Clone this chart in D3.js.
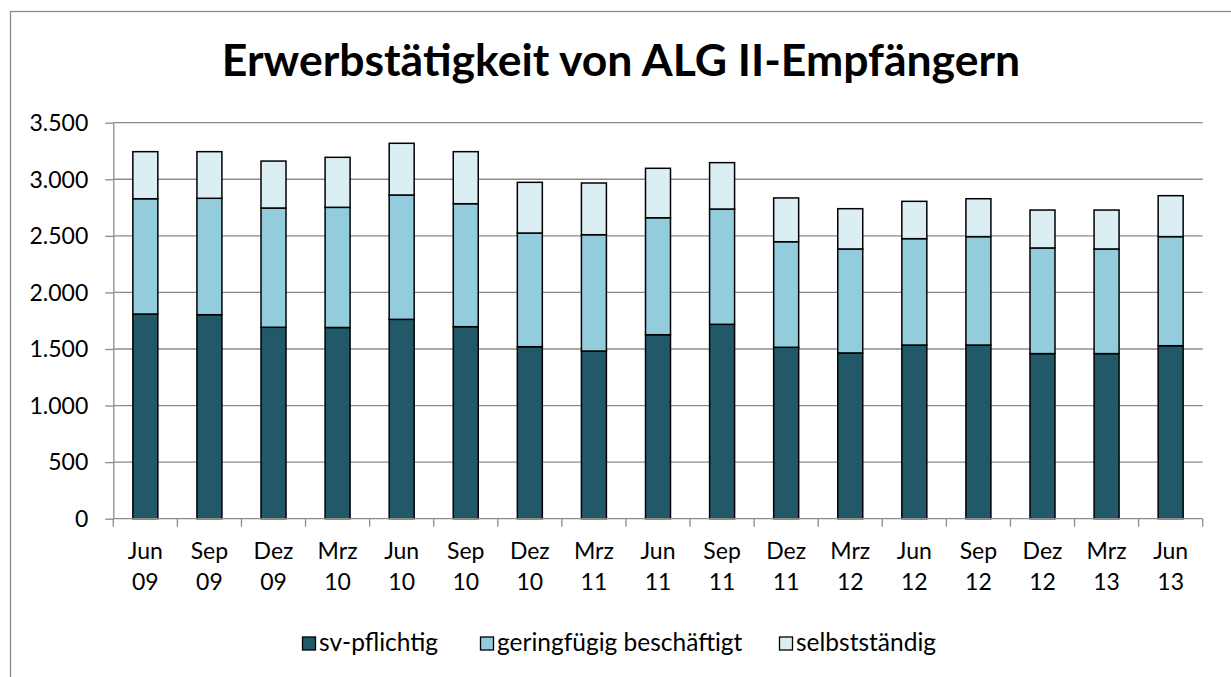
<!DOCTYPE html>
<html>
<head>
<meta charset="utf-8">
<script src="https://cdn.jsdelivr.net/npm/d3@7"></script>
<style>
  html, body { margin: 0; padding: 0; background: #fff; }
  svg { display: block; font-family: Lato, "Open Sans", sans-serif; }
</style>
</head>
<body>
<div id="chart"></div>
<script>
// category labels (two lines each)
const months = ['Jun', 'Sep', 'Dez', 'Mrz', 'Jun', 'Sep', 'Dez', 'Mrz', 'Jun', 'Sep', 'Dez', 'Mrz', 'Jun', 'Sep', 'Dez', 'Mrz', 'Jun'];
const years = ['09', '09', '09', '10', '10', '10', '10', '11', '11', '11', '11', '12', '12', '12', '12', '13', '13'];

// values in thousands
const svPflichtig = [1809, 1803, 1692, 1690, 1762, 1697, 1520, 1482, 1626, 1718, 1515, 1465, 1535, 1535, 1459, 1459, 1529];
const geringfuegig = [1019, 1029, 1054, 1062, 1099, 1087, 1005, 1028, 1034, 1019, 933, 919, 940, 958, 934, 925, 964];
const selbststaendig = [416, 412, 415, 442, 457, 460, 448, 457, 437, 410, 387, 356, 330, 335, 335, 344, 362];

const seriesNames = ['sv-pflichtig', 'geringfügig beschäftigt', 'selbstständig'];
const yTicks = [0, 500, 1000, 1500, 2000, 2500, 3000, 3500];

const colors = ['#215968', '#93cddd', '#dbeef4'];

const width = 1231;
const height = 677;
const plot = { left: 113.3, right: 1202.7, top: 122.7, bottom: 518.7 };
const labelSize = 23;

const de = d3.formatLocale({ decimal: ',', thousands: '.', grouping: [3], currency: ['', ' €'] });
const fmt = de.format(',d');

const svg = d3.select('#chart').append('svg')
  .attr('width', width)
  .attr('height', height);

// outer chart frame (right and bottom edges fall outside the picture)
svg.append('rect')
  .attr('x', 10.5).attr('y', 11.5)
  .attr('width', 1240).attr('height', 700)
  .attr('fill', 'none')
  .attr('stroke', '#8a8a8a')
  .attr('stroke-width', 1.3);

svg.append('text')
  .attr('x', 621).attr('y', 76)
  .attr('text-anchor', 'middle')
  .attr('font-size', 44.5)
  .attr('font-weight', 700)
  .attr('fill', '#000')
  .text('Erwerbstätigkeit von ALG II-Empfängern');

const rows = months.map((m, i) => ({
  key: i,
  month: m,
  year: years[i],
  values: [svPflichtig[i], geringfuegig[i], selbststaendig[i]]
}));

const x = d3.scaleBand()
  .domain(rows.map((r) => r.key))
  .range([plot.left, plot.right])
  .paddingInner(0.61)
  .paddingOuter(0.305);

const y = d3.scaleLinear()
  .domain([0, 3500])
  .range([plot.bottom, plot.top]);

// gridlines
svg.append('g')
  .selectAll('line')
  .data(yTicks.filter((t) => t > 0))
  .join('line')
  .attr('x1', plot.left).attr('x2', plot.right)
  .attr('y1', (d) => y(d)).attr('y2', (d) => y(d))
  .attr('stroke', '#8c8c8c')
  .attr('stroke-width', 1.3);

// y axis
const axisY = svg.append('g')
  .attr('transform', `translate(${plot.left},0)`)
  .call(d3.axisLeft(y).tickValues(yTicks).tickFormat(fmt).tickSize(8).tickSizeOuter(0).tickPadding(17));
axisY.select('.domain').attr('stroke', '#8c8c8c').attr('stroke-width', 1.3);
axisY.selectAll('.tick line').attr('stroke', '#8c8c8c').attr('stroke-width', 1.3);
axisY.selectAll('.tick text')
  .attr('font-family', 'Lato, sans-serif')
  .attr('font-size', labelSize)
  .attr('dy', '0.34em')
  .attr('fill', '#000');

// stacked bars
const stack = d3.stack()
  .keys([0, 1, 2])
  .value((d, k) => d.values[k]);
const stacked = stack(rows);

svg.append('g')
  .selectAll('g')
  .data(stacked)
  .join('g')
  .attr('fill', (d, i) => colors[i])
  .selectAll('rect')
  .data((d) => d)
  .join('rect')
  .attr('x', (d) => x(d.data.key))
  .attr('width', x.bandwidth())
  .attr('y', (d) => y(d[1]))
  .attr('height', (d) => y(d[0]) - y(d[1]))
  .attr('stroke', '#000')
  .attr('stroke-width', 1.5);

// x axis line and ticks between categories
const xAxis = svg.append('g');
xAxis.append('line')
  .attr('x1', plot.left).attr('x2', plot.right)
  .attr('y1', y(0)).attr('y2', y(0))
  .attr('stroke', '#8c8c8c').attr('stroke-width', 1.3);
xAxis.selectAll('.xtick')
  .data(d3.range(rows.length + 1))
  .join('line')
  .attr('class', 'xtick')
  .attr('x1', (i) => x.range()[0] + i * x.step())
  .attr('x2', (i) => x.range()[0] + i * x.step())
  .attr('y1', y(0)).attr('y2', y(0) + 8)
  .attr('stroke', '#8c8c8c').attr('stroke-width', 1.3);

const labels = xAxis.selectAll('.xlabel')
  .data(rows)
  .join('text')
  .attr('class', 'xlabel')
  .attr('text-anchor', 'middle')
  .attr('font-size', labelSize)
  .attr('fill', '#000');
labels.append('tspan')
  .attr('x', (d) => x(d.key) + x.bandwidth() / 2)
  .attr('y', 559)
  .text((d) => d.month);
labels.append('tspan')
  .attr('x', (d) => x(d.key) + x.bandwidth() / 2)
  .attr('y', 590)
  .text((d) => d.year);

// legend
const legendX = [302, 480, 779];
const legend = svg.append('g')
  .selectAll('g')
  .data(seriesNames)
  .join('g')
  .attr('transform', (d, i) => `translate(${legendX[i]},0)`);
legend.append('rect')
  .attr('x', 0.5).attr('y', 637)
  .attr('width', 13).attr('height', 13)
  .attr('fill', (d, i) => colors[i])
  .attr('stroke', '#000').attr('stroke-width', 1.3);
legend.append('text')
  .attr('x', 17).attr('y', 651)
  .attr('font-size', 24.5)
  .attr('fill', '#000')
  .text((d) => d);
</script>
</body>
</html>
